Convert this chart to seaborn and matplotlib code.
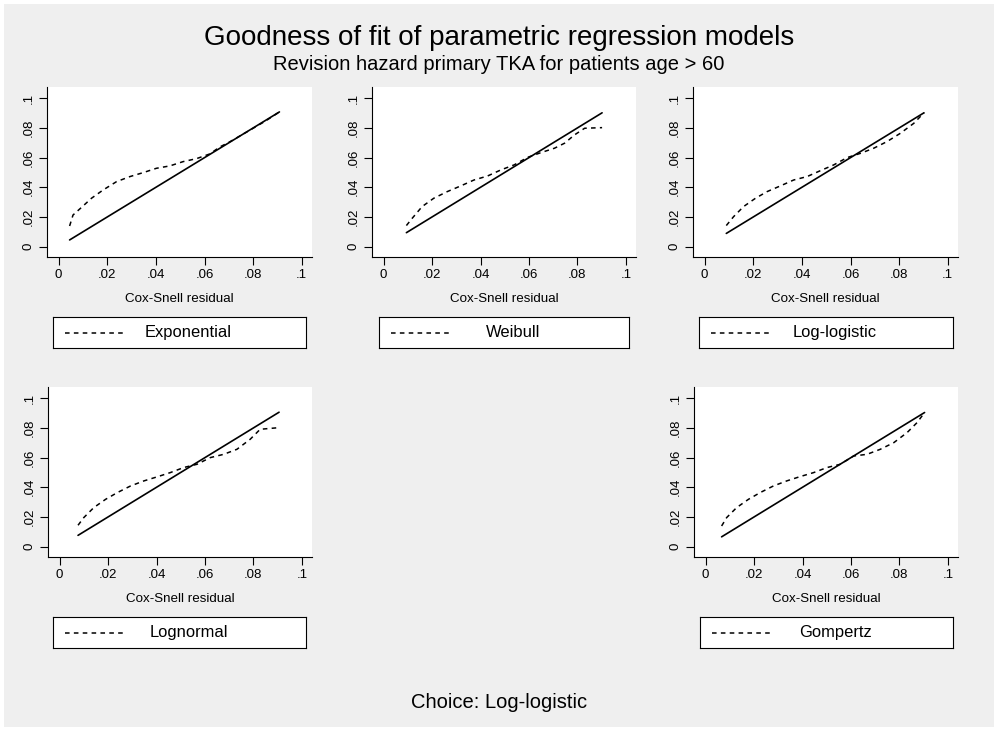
import matplotlib
matplotlib.use("Agg")
import matplotlib.pyplot as plt
import seaborn as sns
import pandas as pd
from matplotlib.patches import Rectangle

# ---------------- data ----------------
title = "Goodness of fit of parametric regression models"
subtitle = "Revision hazard primary TKA for patients age > 60"
note = "Choice: Log-logistic"
xlabel = "Cox-Snell residual"
tick_values = [0, .02, .04, .06, .08, .1]
tick_labels = ["0", ".02", ".04", ".06", ".08", ".1"]
models = ["Exponential", "Weibull", "Log-logistic", "Lognormal", "Gompertz"]

exp_cs = [0.0045, 0.0059, 0.0093, 0.0135, 0.0183, 0.0238, 0.0293, 0.0348, 0.0402,
          0.0457, 0.0512, 0.0567, 0.0622, 0.0663, 0.0700, 0.0750, 0.0800, 0.0850, 0.0908]
exp_H = [0.0139, 0.0213, 0.0263, 0.0326, 0.0382, 0.0438, 0.0472, 0.0499, 0.0528,
         0.0544, 0.0573, 0.0593, 0.0625, 0.0672, 0.0703, 0.0750, 0.0798, 0.0846, 0.0908]

wei_cs = [0.0094, 0.0118, 0.0159, 0.0207, 0.0263, 0.0318, 0.0373, 0.0429, 0.0484,
          0.0539, 0.0595, 0.0650, 0.0705, 0.0747, 0.0788, 0.0830, 0.0902]
wei_H = [0.0142, 0.0191, 0.0270, 0.0326, 0.0371, 0.0409, 0.0449, 0.0476, 0.0517,
         0.0551, 0.0602, 0.0634, 0.0663, 0.0697, 0.0753, 0.0798, 0.0802]

llog_cs = [0.0089, 0.0119, 0.0160, 0.0209, 0.0257, 0.0311, 0.0366, 0.0421, 0.0476,
           0.0531, 0.0586, 0.0641, 0.0695, 0.0750, 0.0805, 0.0860, 0.0902]
llog_H = [0.0142, 0.0202, 0.0270, 0.0326, 0.0371, 0.0409, 0.0449, 0.0472, 0.0512,
          0.0551, 0.0600, 0.0629, 0.0663, 0.0708, 0.0764, 0.0831, 0.0902]

lnorm_cs = [0.0076, 0.0100, 0.0141, 0.0190, 0.0238, 0.0293, 0.0348, 0.0402, 0.0457,
            0.0512, 0.0567, 0.0622, 0.0677, 0.0732, 0.0787, 0.0828, 0.0906]
lnorm_H = [0.0144, 0.0196, 0.0263, 0.0319, 0.0364, 0.0409, 0.0443, 0.0470, 0.0499,
           0.0533, 0.0555, 0.0600, 0.0622, 0.0656, 0.0724, 0.0791, 0.0802]

gomp_cs = [0.0066, 0.0087, 0.0128, 0.0177, 0.0225, 0.0280, 0.0335, 0.0390, 0.0446,
           0.0501, 0.0556, 0.0611, 0.0666, 0.0721, 0.0777, 0.0832, 0.0873, 0.0904]
gomp_H = [0.0139, 0.0196, 0.0263, 0.0319, 0.0364, 0.0409, 0.0443, 0.0472, 0.0499,
          0.0533, 0.0555, 0.0611, 0.0622, 0.0656, 0.0701, 0.0769, 0.0836, 0.0904]

series = {
    "Exponential": (exp_cs, exp_H),
    "Weibull": (wei_cs, wei_H),
    "Log-logistic": (llog_cs, llog_H),
    "Lognormal": (lnorm_cs, lnorm_H),
    "Gompertz": (gomp_cs, gomp_H),
}

# ---------------- style ----------------
sns.set_style("white")
plt.rcParams["font.family"] = ["Liberation Sans", "DejaVu Sans"]
plt.rcParams["text.color"] = "black"
plt.rcParams["xtick.color"] = "black"
plt.rcParams["ytick.color"] = "black"

W, H = 998, 731
BG = "#EFEFEF"
fig = plt.figure(figsize=(W / 100, H / 100), dpi=100, facecolor="white")
fig.patches.append(Rectangle((4 / W, 4 / H), (W - 8) / W, (H - 8) / H,
                             transform=fig.transFigure, facecolor=BG,
                             edgecolor="none", zorder=-10))

def fr(l, t, r, b):
    return [l / W, 1 - b / H, (r - l) / W, (b - t) / H]

# layout in pixels: axes box, legend box, xlabel y
layout = {
    "Exponential": ((47, 87, 312, 257), (53, 317, 306, 348), 299),
    "Weibull": ((372, 87, 636, 257), (379, 317, 629, 348), 299),
    "Log-logistic": ((693, 87, 958, 257), (699, 317, 953, 348), 299),
    "Lognormal": ((48, 387, 312, 557), (53, 617, 306, 648), 599),
    "Gompertz": ((694, 387, 958, 557), (700, 617, 953, 648), 599),
}

DASH = (3.0, 2.8)
for name in models:
    (l, t, r, b), (ll, lt, lr, lb), xly = layout[name]
    cs, Hc = series[name]
    ax = fig.add_axes(fr(l, t, r, b))
    ax.set_facecolor("white")
    df = pd.DataFrame({"cs": cs, "H": Hc})
    sns.lineplot(data=df, x="cs", y="H", ax=ax, color="black", lw=1.1,
                 estimator=None, sort=False)
    ax.lines[-1].set_dashes(DASH)
    sns.lineplot(data=df, x="cs", y="cs", ax=ax, color="black", lw=1.2,
                 estimator=None, sort=False)
    ax.set_xlim(-0.0048, 0.1042)
    ax.set_ylim(-0.0070, 0.1076)
    ax.set_xticks(tick_values)
    ax.set_xticklabels(tick_labels)
    ax.set_yticks(tick_values)
    ax.set_yticklabels(tick_labels, rotation=90, va="center")
    ax.tick_params(direction="out", length=5.5, width=0.8, labelsize=9.5,
                   pad=3.5, colors="black", left=True, bottom=True)
    for s in ["top", "right"]:
        ax.spines[s].set_visible(False)
    for s in ["left", "bottom"]:
        ax.spines[s].set_color("black")
        ax.spines[s].set_linewidth(0.8)
    ax.set_xlabel("")
    ax.set_ylabel("")
    fig.text(((l + r) / 2) / W, 1 - xly / H, xlabel, ha="center", va="center",
             fontsize=9.6, color="black")

    # legend box
    lax = fig.add_axes(fr(ll, lt, lr, lb))
    lax.set_facecolor("white")
    lax.set_xticks([])
    lax.set_yticks([])
    for s in lax.spines.values():
        s.set_visible(True)
        s.set_color("black")
        s.set_linewidth(0.8)
    lax.set_xlim(0, 1)
    lax.set_ylim(0, 1)
    bw = lr - ll
    kline, = lax.plot([12 / bw, 74 / bw], [0.5, 0.5], color="black", lw=1.1)
    kline.set_dashes(DASH)
    lax.text(0.5 + 9 / bw, 0.5, name, ha="center", va="center", fontsize=11.9,
             color="black")

fig.text(0.5, 1 - 38 / H, title, ha="center", va="center", fontsize=20,
         color="black")
fig.text(0.5, 1 - 65 / H, subtitle, ha="center", va="center", fontsize=14.5,
         color="black")
fig.text(0.5, 1 - 702 / H, note, ha="center", va="center", fontsize=14.5,
         color="black")

fig.savefig("out.png", dpi=100, facecolor="white")
